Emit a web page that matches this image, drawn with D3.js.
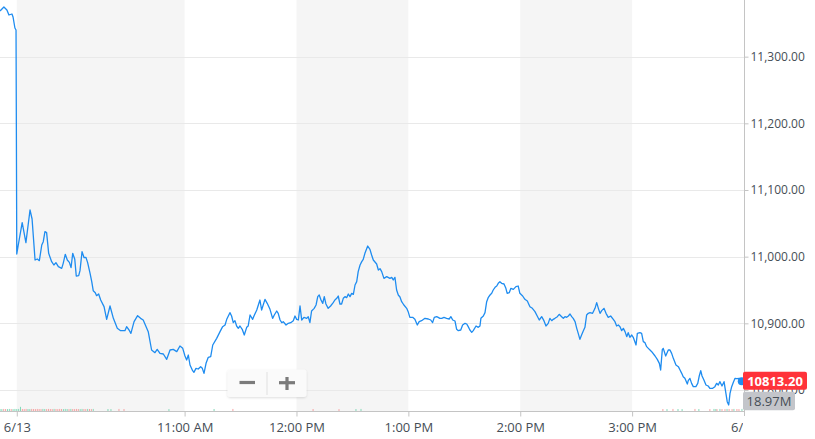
<!DOCTYPE html>
<html><head><meta charset="utf-8">
<script src="https://cdn.jsdelivr.net/npm/d3@7"></script>
<style>html,body{margin:0;padding:0;background:#fff;overflow:hidden}</style>
</head><body><svg id="c" width="815" height="439"></svg>
<script>
// ---- data (minutes relative to 9:30 AM open) ----
const preTimes  = [-9, -6.9, -5.3, -4.2, -2.6, -2.0, -1.0, -0.4];
const prePrices = [11368.5, 11374.5, 11370, 11362.5, 11364, 11359.5, 11343, 11340];

const priceTimes = [
 0,0.8,2.9,4.9,7.1,8.2,9.8,11,12.1,13.4,
 14.2,15.1,16,17.1,18.7,19.9,21,22.3,24.1,24.9,
 26,27.1,28.2,29.1,30,31.1,31.9,33.2,33.9,35,
 36.1,37.1,38,39.3,40.2,41,42.1,42.8,43.9,45,
 46.8,48.2,50,51.8,53.9,55.7,58,58.9,60.2,61.2,
 62.9,64.8,66.4,67.8,70.5,72.3,74.1,75.3,76.8,78.6,
 80.4,82.2,83.9,85.8,87.5,89,90.2,91.1,92,92.9,
 94.3,95,96.1,97.3,98.6,99.5,100.4,101.5,102.7,104,
 105.1,107.2,109,110.4,111.7,112.6,114.3,115.2,116.1,117,
 117.9,118.8,119.7,120.9,122,123.3,124.1,125.1,126.5,127.2,
 128.7,130.4,131.3,133.1,134.3,135.8,137.2,138.1,139.4,140.2,
 141.2,142.1,142.9,144.4,145.6,146.9,148.3,149.2,150.1,151,
 151.9,152.8,154,155.5,156.3,157.2,158.1,159.5,160.5,161.4,
 162.2,163,164.1,164.9,165.8,167,168.3,169.7,170.6,171.6,
 172.4,173.3,174.2,175.1,176,176.9,177.8,178.7,179.6,180.5,
 181.4,182.3,183.1,184.1,185,185.8,186.7,188.2,189.4,190.3,
 191.2,193,193.9,194.8,195.7,196.9,198.4,200.1,201.1,201.9,
 202.8,203.7,204.6,205.5,206.4,207.6,209.1,209.9,210.8,212.3,
 213.5,214.8,215.8,217.1,218.9,220.7,222,223,223.9,225.2,
 226,226.9,227.9,229.1,230.5,231.9,232.8,233.8,235,235.9,
 236.8,238.1,239.1,240.4,241.3,242.1,243,244,244.8,246.3,
 247.5,248.4,248.9,250.2,251.1,252,252.9,253.8,254.7,255.5,
 256.5,257.4,258.2,259.1,260,261.3,262.3,263,264.1,265,
 266.3,267.7,268.9,269.8,271.3,272.5,273.8,275.2,276.5,277.9,
 279.1,280.2,281.5,282.7,283.8,285,285.9,286.9,287.7,288.6,
 289.9,290.9,292.2,293.1,294,294.9,295.8,296.7,297.6,298.4,
 299.4,300.3,301.1,302,302.9,303.8,304.7,305.6,306.5,307.4,
 308.8,310.1,311,311.9,312.8,313.7,314.9,316,317.2,318.5,
 319.9,320.8,321.7,322.6,323.5,324.4,325.3,326.2,327.1,327.9,
 328.8,329.8,330.6,332.1,332.8,334.2,335.1,336,336.9,337.8,
 339.2,340.5,342.3,343.5,344.6,345.3,346.2,346.7,348,349.4,
 350.3,351.2,352.1,353.5,354.8,355.7,356.6,357.4,358.3,359.6,
 360.1,361,361.9,362.8,364.2,365.2,366,366.8,367.5,368.5,
 369.6,370.8,371.7,373.2,374.4,375.3,376.2,377.1,378.2,379.3,
 380.3,381,381.8,382.5,383.4,384.3,385.2,386.1,387.5,388.8
];
const priceValues = [
 11004,11017.5,11051,11021,11070,11056.5,10995,10996.5,10994,11017.5,
 11022.5,11037.5,11036,11005,10992.5,10987.5,10991,10985,10982.5,10990,
 11003.5,10995,10991.5,10983.5,11005,10996,10971,10971.5,10979,11007.5,
 10998.5,10999,10991,10975,10962.5,10949,10946,10941.5,10944,10935,
 10925,10906,10926,10907.5,10892.5,10889,10889,10895,10890,10885,
 10902.5,10911.5,10907.5,10905,10887.5,10860,10856,10861,10855,10854,
 10846,10860,10861,10857.5,10866,10862.5,10851,10845,10852.5,10837.5,
 10829,10826.5,10832.5,10831.5,10835,10832.5,10825,10840,10849,10850,
 10867.5,10877.5,10887.5,10895,10897.5,10906,10916,10911,10901,10904,
 10896,10892.5,10896,10891,10882.5,10894,10896,10912.5,10906,10911,
 10920,10935,10920,10936,10930,10921,10907.5,10912.5,10918.5,10915,
 10905,10901,10902.5,10897.5,10900,10901,10904,10911,10906,10905,
 10926,10905,10909,10907.5,10910,10901,10918.5,10922.5,10927.5,10940,
 10942.5,10936,10930,10940,10929,10922.5,10926,10931,10935,10937.5,
 10941,10929,10929,10937.5,10940,10938.5,10944,10940,10945,10943.5,
 10957.5,10962.5,10977.5,10987.5,10992.5,10996,11005,11016,11011,11002.5,
 10995,10989,10980,10982,10977.5,10967.5,10970,10967.5,10969,10965,
 10969,10950,10942.5,10939.5,10932.5,10927.5,10922.5,10917.5,10909,10909,
 10906,10897.5,10902.5,10904,10907.5,10906.5,10905,10901,10909,10910,
 10909,10907.5,10907.5,10909,10907.5,10906.5,10910,10905,10903.5,10891,
 10889,10890,10897.5,10900,10899,10895,10890,10886.5,10889,10896,
 10894,10896,10907.5,10911,10916,10932.5,10939,10942.5,10945,10950,
 10954,10956,10960,10962.5,10960,10959,10952.5,10945,10946,10952.5,
 10951,10955,10956,10945,10941,10936,10933.5,10925,10922.5,10917.5,
 10911,10905,10910,10904,10896,10900,10907.5,10904,10906,10907.5,
 10910,10913.5,10910,10907.5,10910,10909,10911,10914,10910,10907.5,
 10902.5,10892.5,10885,10876,10882.5,10888.5,10894,10912.5,10915,10916,
 10915,10922.5,10931,10922.5,10915,10919,10922.5,10915,10909,10911,
 10906,10902.5,10896,10897.5,10895,10889,10892.5,10887.5,10880,10886,
 10879,10882.5,10879,10867.5,10885,10886,10885,10872.5,10871,10865,
 10861,10857.5,10851,10846,10840,10830,10861,10862.5,10851,10860,
 10860,10855,10847.5,10837.5,10835,10830,10825,10820,10817.5,10809,
 10814,10817.5,10810,10805,10805,10810,10821,10829,10821,10815,
 10807.5,10806,10802.5,10802.5,10805,10810,10807.5,10812.5,10806,10812.5,
 10795,10782.5,10777.5,10795,10805,10811.5,10817.5,10817,10817.5,10813.2
];

const volTimes = [
 -9,-8,-7,-6,-5,-4,-3,-2,-1,0,1,2,3,4,5,6,7,8,9,10,11,12,13,14,15,16,17,18,19,20,
 21,22,23,24,25,26,27,28,29,30,31,32,33,34,35,36,37,38,39,40,41,
 48.9,50.5,54.8,57.5,81.6,105.8,115.9,158.9,172.8,181.9,184.6,
 346.5,348.7,351.9,354.6,356.8,363.7,365.8,371.7,373.9,374.9,375.5,377.1,378.2,379.8,380.9,382,383.6,384.6,386.2,387.3,388.9
];
const volValues = [
 250000,240000,260000,250000,240000,260000,250000,240000,260000,250000,260000,520000,250000,240000,260000,250000,240000,260000,250000,240000,
 260000,250000,240000,260000,250000,240000,260000,250000,240000,260000,250000,240000,260000,250000,240000,260000,250000,240000,260000,250000,
 240000,260000,250000,240000,260000,250000,240000,260000,250000,240000,260000,
 250000,240000,260000,250000,240000,250000,260000,250000,240000,250000,260000,
 250000,240000,260000,250000,240000,260000,250000,240000,260000,250000,240000,260000,250000,240000,260000,250000,240000,260000,250000,240000,260000
];
const volDirs = [
 1,1,-1,-1,1,1,-1,1,1,1, 1,1,-1,-1,-1,1,1,-1,-1,-1, -1,-1,-1,1,1,-1,-1,-1,-1,1,
 -1,-1,-1,-1,1,1,1,-1,1,-1, -1,-1,-1,1,1,-1,-1,1,-1,-1, 1,
 1,1,-1,-1,1,1,-1,-1,-1,1,1,
 -1,1,-1,1,1,-1,1,-1,1,1,-1,1,-1,-1,1,-1,-1,1,-1,-1,1
];

const yTicks = [10800, 10900, 11000, 11100, 11200, 11300];
const xTickTimes = [0, 90, 150, 210, 270, 330, 390];
const xTickLabels = ["6/13", "11:00 AM", "12:00 PM", "1:00 PM", "2:00 PM", "3:00 PM", "6/14"];
const shadedHours = [[0, 90], [150, 210], [270, 330]];
const lastPriceLabel = "10813.20";
const volumeLabel = "18.97M";

// ---- layout ----
const plotRight = 744, plotBottom = 411;
const svg = d3.select("#c");
const x = d3.scaleLinear().domain([-9, 390]).range([0, plotRight]);
const y = d3.scaleLinear().domain([10768.5, 11385]).range([plotBottom, 0]);
const vh = d3.scaleLinear().domain([0, 1000000]).range([0, 8]);

const defs = svg.append("defs");
defs.append("clipPath").attr("id", "plotclip").append("rect")
  .attr("x", 0).attr("y", 0).attr("width", plotRight).attr("height", plotBottom);
defs.append("clipPath").attr("id", "xclip").append("rect")
  .attr("x", -20).attr("y", -5).attr("width", plotRight + 19).attr("height", 40);
const f = defs.append("filter").attr("id", "sh").attr("x", "-20%").attr("y", "-30%").attr("width", "140%").attr("height", "170%");
f.append("feDropShadow").attr("dx", 0).attr("dy", 1).attr("stdDeviation", 1.2)
  .attr("flood-color", "#000").attr("flood-opacity", 0.13);

// shaded bands
svg.append("g").selectAll("rect").data(shadedHours).join("rect")
  .attr("x", d => x(d[0])).attr("y", 0)
  .attr("width", d => x(d[1]) - x(d[0])).attr("height", plotBottom)
  .attr("fill", "#f5f5f5");

// horizontal grid
svg.append("g").selectAll("line").data(yTicks).join("line")
  .attr("x1", 0).attr("x2", plotRight)
  .attr("y1", d => Math.round(y(d)) + 0.5).attr("y2", d => Math.round(y(d)) + 0.5)
  .attr("stroke", "#e9e9e9").attr("stroke-width", 1);

// volume bars
const vols = volTimes.map((t, i) => ({t, v: volValues[i], d: volDirs[i]}));
svg.append("g").selectAll("rect").data(vols).join("rect")
  .attr("x", d => x(d.t) - 0.5).attr("width", 1)
  .attr("y", d => plotBottom - vh(d.v)).attr("height", d => vh(d.v))
  .attr("fill", d => d.d > 0 ? "#84d9b9" : "#f6a3a3");

// axes lines
svg.append("line").attr("x1", 0).attr("x2", plotRight + 0.5)
  .attr("y1", plotBottom + 0.5).attr("y2", plotBottom + 0.5)
  .attr("stroke", "#c4c4c4");
svg.append("line").attr("x1", plotRight + 0.5).attr("x2", plotRight + 0.5)
  .attr("y1", 0).attr("y2", plotBottom + 5)
  .attr("stroke", "#c4c4c4");

// price line
const series = preTimes.map((t, i) => [t, prePrices[i]])
  .concat(priceTimes.map((t, i) => [t, priceValues[i]]));
const line = d3.line().x(d => x(d[0])).y(d => y(d[1]));
svg.append("path").datum(series)
  .attr("clip-path", "url(#plotclip)")
  .attr("d", line).attr("fill", "none")
  .attr("stroke", "#1e8cf0").attr("stroke-width", 1.3)
  .attr("stroke-linejoin", "round");

// y axis
const yAxis = d3.axisRight(y).tickValues(yTicks).tickSize(4).tickPadding(2)
  .tickFormat(d3.format(",.2f"));
const gy = svg.append("g").attr("transform", `translate(${plotRight + 0.5},0)`).call(yAxis);
gy.select(".domain").remove();
gy.selectAll(".tick line").attr("stroke", "#c4c4c4");
gy.selectAll(".tick text").attr("fill", "#464e56")
  .style("font-family", "'Open Sans', sans-serif").style("font-size", "12px");

// x axis
const xAxis = d3.axisBottom(x).tickValues(xTickTimes).tickSize(5).tickPadding(6)
  .tickFormat((d, i) => xTickLabels[i]);
const gx = svg.append("g").attr("transform", `translate(0,${plotBottom + 0.5})`)
  .attr("clip-path", "url(#xclip)").call(xAxis);
gx.select(".domain").remove();
gx.selectAll(".tick line").attr("stroke", "#c4c4c4");
gx.selectAll(".tick text").attr("fill", "#464e56")
  .style("font-family", "'Open Sans', sans-serif").style("font-size", "13px");

// end dot
const last = series[series.length - 1];
svg.append("circle").attr("cx", x(last[0])).attr("cy", y(last[1])).attr("r", 4)
  .attr("fill", "#1e8cf0");

// price & volume labels
const ly = y(last[1]);
svg.append("rect").attr("x", 743).attr("y", ly - 9.5).attr("width", 64).attr("height", 18)
  .attr("rx", 2).attr("fill", "#ff333a");
svg.append("text").attr("x", 775).attr("y", ly).attr("dy", "0.36em")
  .attr("text-anchor", "middle").attr("fill", "#fff")
  .style("font-family", "'Open Sans', sans-serif").style("font-size", "13px").style("font-weight", "bold")
  .text(lastPriceLabel);
svg.append("rect").attr("x", 743).attr("y", ly + 10.5).attr("width", 52).attr("height", 18.5)
  .attr("rx", 2).attr("fill", "#c3c5ca");
svg.append("text").attr("x", 769).attr("y", ly + 19.8).attr("dy", "0.36em")
  .attr("text-anchor", "middle").attr("fill", "#464e56")
  .style("font-family", "'Open Sans', sans-serif").style("font-size", "13px")
  .text(volumeLabel);

// zoom control
const zc = svg.append("g");
zc.append("rect").attr("x", 227.5).attr("y", 369.5).attr("width", 79).attr("height", 27.5)
  .attr("rx", 3).attr("fill", "#fafafa").attr("filter", "url(#sh)");
zc.append("line").attr("x1", 267).attr("x2", 267).attr("y1", 372).attr("y2", 395)
  .attr("stroke", "#e0e0e0");
zc.append("line").attr("x1", 239.5).attr("x2", 255).attr("y1", 382.5).attr("y2", 382.5)
  .attr("stroke", "#7b7b7b").attr("stroke-width", 3.2);
zc.append("line").attr("x1", 279).attr("x2", 295).attr("y1", 382.7).attr("y2", 382.7)
  .attr("stroke", "#7b7b7b").attr("stroke-width", 3.2);
zc.append("line").attr("x1", 287).attr("x2", 287).attr("y1", 377).attr("y2", 390)
  .attr("stroke", "#7b7b7b").attr("stroke-width", 3.2);
</script></body></html>
